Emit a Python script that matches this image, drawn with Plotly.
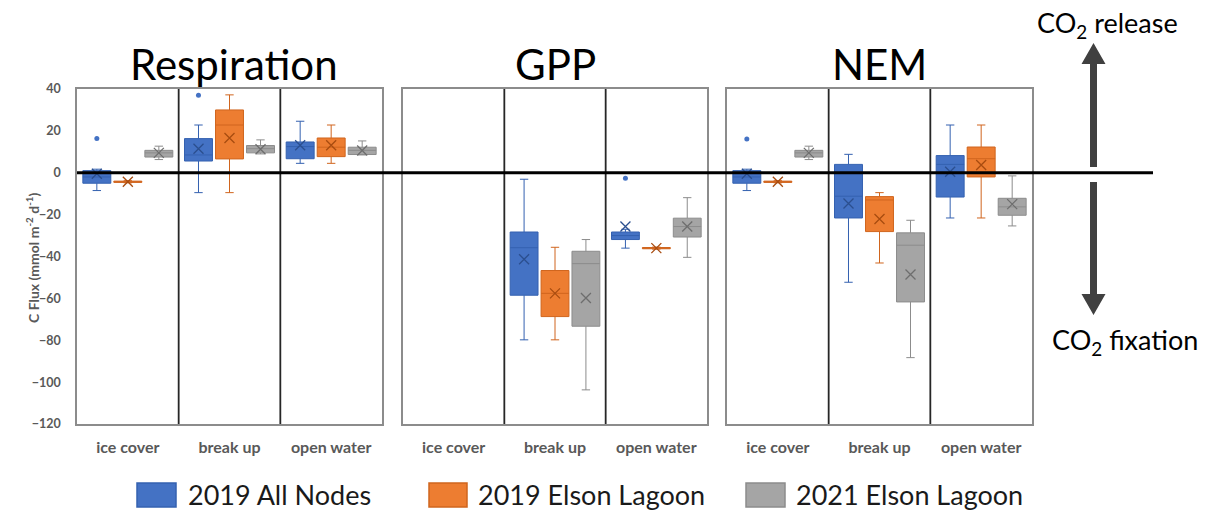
import plotly.graph_objects as go

# ---- data -------------------------------------------------------------
categories = ["ice cover", "break up", "open water"]
panels = ["Respiration", "GPP", "NEM"]
series_names = ["2019 All Nodes", "2019 Elson Lagoon", "2021 Elson Lagoon"]

# per category: [lower whisker, Q1, median, Q3, upper whisker, mean]
resp_2019_all = [
    [-8.5, -5.0, -2.0, 1.0, 1.7, -0.5],
    [-9.5, 5.6, 8.5, 16.3, 22.8, 11.5],
    [4.5, 6.7, 12.5, 14.7, 24.6, 13.1],
]
resp_2019_elson = [
    [-4.8, -4.6, -4.3, -4.0, -3.8, -4.3],
    [-9.5, 6.6, 22.8, 30.0, 37.2, 16.6],
    [4.5, 7.7, 12.2, 16.6, 22.8, 13.1],
]
resp_2021_elson = [
    [6.3, 7.5, 9.5, 10.7, 12.7, 9.5],
    [9.0, 9.5, 11.5, 13.0, 15.7, 11.2],
    [8.5, 8.7, 10.7, 12.2, 15.2, 10.6],
]

gpp_2019_all = [
    None,
    [-79.8, -58.5, -35.8, -28.3, -3.1, -41.3],
    [-36.0, -31.9, -30.0, -28.3, -27.0, -25.7],
]
gpp_2019_elson = [
    None,
    [-79.8, -68.7, -57.6, -46.7, -35.6, -57.6],
    [-36.5, -36.3, -36.0, -35.7, -35.5, -36.0],
]
gpp_2021_elson = [
    None,
    [-103.7, -73.3, -43.4, -37.5, -31.9, -59.8],
    [-40.4, -30.7, -25.7, -21.7, -11.9, -25.7],
]

nem_2019_all = [
    [-8.5, -5.0, -2.0, 1.0, 1.7, -0.5],
    [-52.3, -21.6, -11.2, 4.0, 8.8, -14.7],
    [-21.6, -11.6, 4.0, 8.2, 22.8, 0.5],
]
nem_2019_elson = [
    [-4.8, -4.6, -4.3, -4.0, -3.8, -4.3],
    [-43.1, -28.1, -13.0, -11.4, -9.5, -22.1],
    [-21.6, -2.0, 6.7, 12.3, 22.8, 3.7],
]
nem_2021_elson = [
    [6.3, 7.5, 9.5, 10.7, 12.7, 9.5],
    [-88.3, -61.7, -34.6, -28.7, -22.7, -48.6],
    [-25.4, -20.3, -16.3, -12.2, -1.5, -15.0],
]

# outlying points per category
resp_2019_all_outliers = [[16.3], [37.0], []]
gpp_2019_all_outliers = [[], [], [-2.6]]
nem_2019_all_outliers = [[16.1], [], []]

y_ticks = [40, 20, 0, -20, -40, -60, -80, -100, -120]

panel_stats = [
    [resp_2019_all, resp_2019_elson, resp_2021_elson],
    [gpp_2019_all, gpp_2019_elson, gpp_2021_elson],
    [nem_2019_all, nem_2019_elson, nem_2021_elson],
]
panel_outliers = [
    [resp_2019_all_outliers, None, None],
    [gpp_2019_all_outliers, None, None],
    [nem_2019_all_outliers, None, None],
]

# ---- styling ----------------------------------------------------------
W, H = 1205, 512
FONT = "Lato"
fills = ["#4472C4", "#ED7D31", "#A5A5A5"]
edges = ["#3461B0", "#D0651E", "#8C8C8C"]
mean_cols = ["#2B4F8F", "#A84C10", "#6E6E6E"]
offsets = [-0.305, 0.0, 0.305]
box_w = 0.275
label_grey = "#595959"


def fx(x):
    return x / W


def fy(y):
    return 1 - y / H


panel_px = [(77, 382), (403, 707), (727, 1032)]
title_x = [234, 555, 879]
plot_top, plot_bottom = 89, 424

fig = go.Figure()

for p, stats_by_series in enumerate(panel_stats):
    xa = "x" if p == 0 else f"x{p + 1}"
    ya = "y" if p == 0 else f"y{p + 1}"
    for s, stats in enumerate(stats_by_series):
        xs, lo, q1, med, q3, hi, mn = [], [], [], [], [], [], []
        for c, row in enumerate(stats):
            if row is None:
                continue
            xs.append(c + offsets[s])
            lo.append(row[0]); q1.append(row[1]); med.append(row[2])
            q3.append(row[3]); hi.append(row[4]); mn.append(row[5])
        fig.add_trace(go.Box(
            x=xs, lowerfence=lo, q1=q1, median=med, q3=q3, upperfence=hi,
            width=box_w, whiskerwidth=0.3, boxpoints=False,
            fillcolor=fills[s], line=dict(color=edges[s], width=1),
            xaxis=xa, yaxis=ya, showlegend=False, hoverinfo="skip",
        ))
        fig.add_trace(go.Scatter(
            x=xs, y=mn, mode="markers",
            marker=dict(symbol="x-thin", size=10,
                        line=dict(color=mean_cols[s], width=1.3)),
            xaxis=xa, yaxis=ya, showlegend=False, hoverinfo="skip",
        ))
        outl = panel_outliers[p][s]
        if outl:
            ox, oy = [], []
            for c, vals in enumerate(outl):
                for v in vals:
                    ox.append(c + offsets[s])
                    oy.append(v)
            fig.add_trace(go.Scatter(
                x=ox, y=oy, mode="markers",
                marker=dict(symbol="circle", size=5, color=fills[s]),
                xaxis=xa, yaxis=ya, showlegend=False, hoverinfo="skip",
            ))

axis_line = dict(showline=True, mirror=True, linecolor="#8C8C8C",
                 linewidth=1.5, showgrid=False, zeroline=False, ticks="",
                 automargin=False)
layout = dict(
    width=W, height=H, autosize=False,
    margin=dict(l=0, r=0, t=0, b=0, pad=0, autoexpand=False),
    paper_bgcolor="white", plot_bgcolor="white", showlegend=False,
    font=dict(family=FONT),
)
for p, (x0, x1) in enumerate(panel_px):
    xk = "xaxis" if p == 0 else f"xaxis{p + 1}"
    yk = "yaxis" if p == 0 else f"yaxis{p + 1}"
    ya = "y" if p == 0 else f"y{p + 1}"
    xa = "x" if p == 0 else f"x{p + 1}"
    layout[xk] = dict(
        domain=[fx(x0), fx(x1)], range=[-0.5, 2.5], anchor=ya,
        tickvals=[0, 1, 2], ticktext=categories,
        tickfont=dict(size=16, color=label_grey, weight="bold"),
        ticklabelstandoff=8, **axis_line,
    )
    layout[yk] = dict(
        domain=[fy(plot_bottom), fy(plot_top)], range=[-120, 40],
        anchor=xa, tickvals=y_ticks, showticklabels=(p == 0),
        tickfont=dict(size=12.5, color=label_grey, weight="bold"),
        ticklabelstandoff=12, **axis_line,
    )
fig.update_layout(**layout)

shapes = []
# category dividers inside each panel
for p in range(3):
    xa = "x" if p == 0 else f"x{p + 1}"
    ya = "y" if p == 0 else f"y{p + 1}"
    for xv in (0.5, 1.5):
        shapes.append(dict(type="line", xref=xa, yref=f"{ya} domain",
                           x0=xv, x1=xv, y0=0, y1=1,
                           line=dict(color="#262626", width=1.8)))
# zero reference line across all panels
shapes.append(dict(type="line", xref="paper", yref="y",
                   x0=fx(77), x1=fx(1153), y0=0, y1=0,
                   line=dict(color="black", width=3)))

# release / fixation arrows
arrow_col = "#404040"
def poly(pts):
    return "M " + " L ".join(f"{fx(a)},{fy(b)}" for a, b in pts) + " Z"

ax_c, shaft_half, head_half = 1093.5, 3.5, 12
shapes.append(dict(type="path", xref="paper", yref="paper",
                   path=poly([(ax_c - shaft_half, 167), (ax_c - shaft_half, 64),
                              (ax_c - head_half, 64), (ax_c, 43),
                              (ax_c + head_half, 64), (ax_c + shaft_half, 64),
                              (ax_c + shaft_half, 167)]),
                   fillcolor=arrow_col, line=dict(width=0)))
shapes.append(dict(type="path", xref="paper", yref="paper",
                   path=poly([(ax_c - shaft_half, 182), (ax_c - shaft_half, 294),
                              (ax_c - head_half, 294), (ax_c, 315),
                              (ax_c + head_half, 294), (ax_c + shaft_half, 294),
                              (ax_c + shaft_half, 182)]),
                   fillcolor=arrow_col, line=dict(width=0)))

# legend swatches
legend_sq = [(137, 176), (429, 467), (746, 785)]
legend_txt_x = [186, 476, 794]
for s, (a, b) in enumerate(legend_sq):
    shapes.append(dict(type="rect", xref="paper", yref="paper",
                       x0=fx(a), x1=fx(b), y0=fy(507), y1=fy(483),
                       fillcolor=fills[s], line=dict(color=edges[s], width=1.5)))
fig.update_layout(shapes=shapes)

annotations = []
for p in range(3):
    annotations.append(dict(text=panels[p], xref="paper", yref="paper",
                            x=fx(title_x[p]), y=fy(64), showarrow=False,
                            xanchor="center", yanchor="middle",
                            font=dict(size=42, color="black", family=FONT)))
annotations.append(dict(text="C Flux (mmol m<sup>-2</sup> d<sup>-1</sup>)",
                        xref="paper", yref="paper", x=fx(32), y=fy(258),
                        xanchor="center", yanchor="middle",
                        textangle=-90, showarrow=False,
                        font=dict(size=14, color=label_grey, weight="bold")))
annotations.append(dict(text="CO<sub>2</sub> release", xref="paper", yref="paper",
                        x=fx(1107), y=fy(24), xanchor="center", yanchor="middle",
                        showarrow=False, font=dict(size=27, color="black")))
annotations.append(dict(text="CO<sub>2</sub> fixation", xref="paper", yref="paper",
                        x=fx(1125), y=fy(341), xanchor="center", yanchor="middle",
                        showarrow=False, font=dict(size=27, color="black")))
for s, name in enumerate(series_names):
    annotations.append(dict(text=name, xref="paper", yref="paper",
                            x=fx(legend_txt_x[s]), y=fy(494), xanchor="left",
                            yanchor="middle", showarrow=False,
                            font=dict(size=27, color="#1A1A1A")))
fig.update_layout(annotations=annotations)

fig.write_html("out.html", config={"responsive": False})
